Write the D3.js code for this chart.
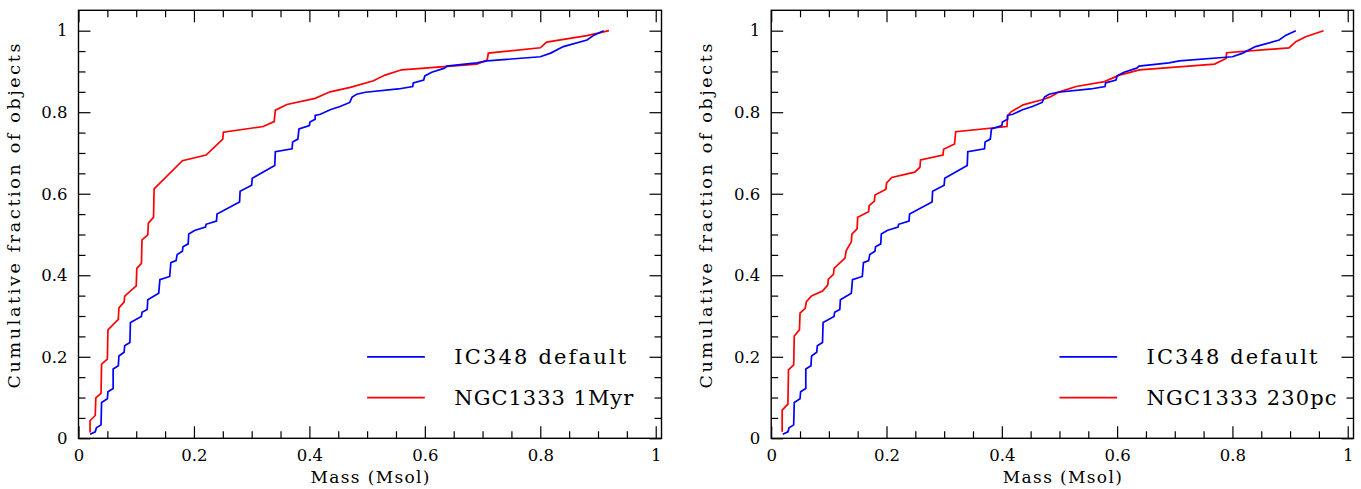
<!DOCTYPE html>
<html>
<head>
<meta charset="utf-8">
<script src="https://cdn.jsdelivr.net/npm/d3@7"></script>
<style>
  body { margin: 0; background: #fff; }
  svg { display: block; }
  text { font-family: "DejaVu Serif", serif; fill: #000; }
</style>
</head>
<body>
<script>
// IC348 default (same sample in both panels)
const icMass = [0.020, 0.029, 0.031, 0.039, 0.040, 0.050, 0.051, 0.060, 0.060, 0.069, 0.070, 0.079, 0.080, 0.089,
  0.090, 0.109, 0.110, 0.119, 0.120, 0.139, 0.141, 0.158, 0.160, 0.169, 0.171, 0.180, 0.181, 0.190, 0.191, 0.201,
  0.220, 0.221, 0.239, 0.240, 0.279, 0.280, 0.300, 0.301, 0.340, 0.341, 0.370, 0.371, 0.380, 0.382, 0.400, 0.401,
  0.410, 0.410, 0.419, 0.436, 0.453, 0.470, 0.474, 0.482, 0.497, 0.554, 0.579, 0.580, 0.598, 0.600, 0.612, 0.634,
  0.638, 0.690, 0.708, 0.800, 0.818, 0.840, 0.881, 0.893, 0.910];
const icFrac = [0.010, 0.016, 0.026, 0.033, 0.088, 0.097, 0.114, 0.122, 0.170, 0.178, 0.202, 0.211, 0.227, 0.235,
  0.284, 0.299, 0.309, 0.316, 0.340, 0.356, 0.389, 0.397, 0.431, 0.436, 0.451, 0.459, 0.470, 0.477, 0.501, 0.510,
  0.518, 0.525, 0.533, 0.550, 0.580, 0.606, 0.621, 0.638, 0.669, 0.703, 0.710, 0.727, 0.734, 0.759, 0.767, 0.776,
  0.783, 0.792, 0.795, 0.806, 0.814, 0.824, 0.837, 0.844, 0.849, 0.857, 0.863, 0.872, 0.879, 0.889, 0.898, 0.908,
  0.913, 0.921, 0.926, 0.936, 0.945, 0.961, 0.977, 0.989, 1.000];

// NGC1333 1Myr (left panel)
const ngcMyrMass = [0.020, 0.020, 0.029, 0.030, 0.039, 0.040, 0.050, 0.051, 0.069, 0.070, 0.079, 0.080, 0.100, 0.101,
  0.109, 0.110, 0.120, 0.121, 0.130, 0.131, 0.180, 0.221, 0.250, 0.251, 0.320, 0.339, 0.341, 0.361, 0.410, 0.423,
  0.436, 0.471, 0.511, 0.531, 0.560, 0.690, 0.708, 0.710, 0.800, 0.811, 0.881, 0.919];
const ngcMyrFrac = [0.014, 0.043, 0.056, 0.099, 0.110, 0.182, 0.194, 0.266, 0.292, 0.320, 0.334, 0.349, 0.374, 0.417,
  0.429, 0.487, 0.499, 0.528, 0.542, 0.612, 0.681, 0.695, 0.734, 0.751, 0.765, 0.777, 0.805, 0.819, 0.834, 0.842,
  0.850, 0.861, 0.877, 0.891, 0.904, 0.918, 0.928, 0.945, 0.958, 0.972, 0.988, 1.000];

// NGC1333 230pc (right panel)
const ngcPcMass = [0.019, 0.019, 0.029, 0.030, 0.039, 0.040, 0.049, 0.050, 0.059, 0.061, 0.070, 0.089, 0.098, 0.099,
  0.108, 0.109, 0.128, 0.130, 0.139, 0.140, 0.149, 0.150, 0.169, 0.170, 0.179, 0.180, 0.199, 0.200, 0.209, 0.249,
  0.258, 0.259, 0.298, 0.299, 0.318, 0.320, 0.409, 0.410, 0.416, 0.437, 0.468, 0.483, 0.500, 0.529, 0.578, 0.604,
  0.639, 0.769, 0.789, 0.790, 0.898, 0.910, 0.927, 0.958];
const ngcPcFrac = [0.016, 0.069, 0.084, 0.168, 0.180, 0.251, 0.266, 0.307, 0.319, 0.335, 0.349, 0.361, 0.376, 0.390,
  0.402, 0.417, 0.442, 0.460, 0.482, 0.501, 0.514, 0.542, 0.556, 0.571, 0.582, 0.597, 0.611, 0.626, 0.640, 0.653,
  0.665, 0.683, 0.695, 0.709, 0.722, 0.752, 0.765, 0.791, 0.801, 0.818, 0.830, 0.837, 0.850, 0.863, 0.875, 0.891,
  0.904, 0.918, 0.932, 0.946, 0.958, 0.973, 0.985, 1.000];

const majorTicks = [0, 0.2, 0.4, 0.6, 0.8, 1];
const minorTicks = [0.05, 0.1, 0.15, 0.25, 0.3, 0.35, 0.45, 0.5, 0.55, 0.65, 0.7, 0.75, 0.85, 0.9, 0.95];
const legendRows = [0.2, 0.1];

const panels = [
  {x0: 78.5, x1: 661.5, redMass: ngcMyrMass, redFrac: ngcMyrFrac,
   names: ["IC348 default", "NGC1333 1Myr"], nameW: [172, 179]},
  {x0: 771.2, x1: 1353.5, redMass: ngcPcMass, redFrac: ngcPcFrac,
   names: ["IC348 default", "NGC1333 230pc"], nameW: [171, 190]}
];

const W = 1361, H = 489;
const yTop = 10.3, yBottom = 438.3;

const svg = d3.select("body").append("svg")
  .attr("width", W)
  .attr("height", H);

const fmt = d => String(+d.toFixed(1));

function styleAxis(g) {
  g.select(".domain").remove();
  g.selectAll(".tick line").attr("stroke", "#000").attr("stroke-width", 1.2);
  g.selectAll(".tick text")
    .attr("font-family", "DejaVu Serif, serif")
    .attr("font-size", 16.5)
    .attr("fill", "#000");
}

function drawPanel(p) {
  const x = d3.scaleLinear().domain([0, 1.01]).range([p.x0, p.x1]);
  const y = d3.scaleLinear().domain([0, 1.05]).range([yBottom, yTop]);
  const g = svg.append("g");

  // ticks on all four sides, pointing inwards
  g.append("g").attr("transform", "translate(0," + yBottom + ")")
    .call(d3.axisBottom(x).tickValues(minorTicks).tickSize(-7).tickFormat("")).call(styleAxis);
  g.append("g").attr("transform", "translate(0," + yBottom + ")")
    .call(d3.axisBottom(x).tickValues(majorTicks).tickSize(-12).tickPadding(11).tickFormat(fmt)).call(styleAxis);
  g.append("g").attr("transform", "translate(0," + yTop + ")")
    .call(d3.axisTop(x).tickValues(minorTicks).tickSize(-7).tickFormat("")).call(styleAxis);
  g.append("g").attr("transform", "translate(0," + yTop + ")")
    .call(d3.axisTop(x).tickValues(majorTicks).tickSize(-12).tickFormat("")).call(styleAxis);

  g.append("g").attr("transform", "translate(" + p.x0 + ",0)")
    .call(d3.axisLeft(y).tickValues(minorTicks).tickSize(-7).tickFormat("")).call(styleAxis);
  g.append("g").attr("transform", "translate(" + p.x0 + ",0)")
    .call(d3.axisLeft(y).tickValues(majorTicks).tickSize(-12).tickPadding(11).tickFormat(fmt)).call(styleAxis);
  g.append("g").attr("transform", "translate(" + p.x1 + ",0)")
    .call(d3.axisRight(y).tickValues(minorTicks).tickSize(-7).tickFormat("")).call(styleAxis);
  g.append("g").attr("transform", "translate(" + p.x1 + ",0)")
    .call(d3.axisRight(y).tickValues(majorTicks).tickSize(-12).tickFormat("")).call(styleAxis);

  // frame
  g.append("rect")
    .attr("x", p.x0).attr("y", yTop)
    .attr("width", p.x1 - p.x0).attr("height", yBottom - yTop)
    .attr("fill", "none").attr("stroke", "#000").attr("stroke-width", 1.4);

  const line = d3.line().x(d => x(d[0])).y(d => y(d[1]));

  g.append("path").datum(d3.zip(p.redMass, p.redFrac))
    .attr("d", line).attr("fill", "none").attr("stroke", "#ff0000").attr("stroke-width", 1.7);
  g.append("path").datum(d3.zip(icMass, icFrac))
    .attr("d", line).attr("fill", "none").attr("stroke", "#0000ff").attr("stroke-width", 1.7);

  // legend
  const colors = ["#0000ff", "#ff0000"];
  legendRows.forEach((v, i) => {
    g.append("line")
      .attr("x1", x(0.5)).attr("x2", x(0.6))
      .attr("y1", y(v)).attr("y2", y(v))
      .attr("stroke", colors[i]).attr("stroke-width", 1.7);
    g.append("text")
      .attr("x", x(0.651)).attr("y", y(v))
      .attr("dy", "0.36em")
      .attr("font-size", 21)
      .attr("textLength", p.nameW[i])
      .attr("lengthAdjust", "spacing")
      .text(p.names[i]);
  });

  // axis titles
  g.append("text")
    .attr("x", (p.x0 + p.x1) / 2).attr("y", 483)
    .attr("text-anchor", "middle")
    .attr("font-size", 17)
    .attr("textLength", 119)
    .attr("lengthAdjust", "spacing")
    .text("Mass (Msol)");

  g.append("text")
    .attr("transform", "translate(" + (p.x0 - 59) + ",216) rotate(-90)")
    .attr("text-anchor", "middle")
    .attr("font-size", 17.5)
    .attr("textLength", 345)
    .attr("lengthAdjust", "spacing")
    .text("Cumulative fraction of objects");
}

panels.forEach(drawPanel);
</script>
</body>
</html>
